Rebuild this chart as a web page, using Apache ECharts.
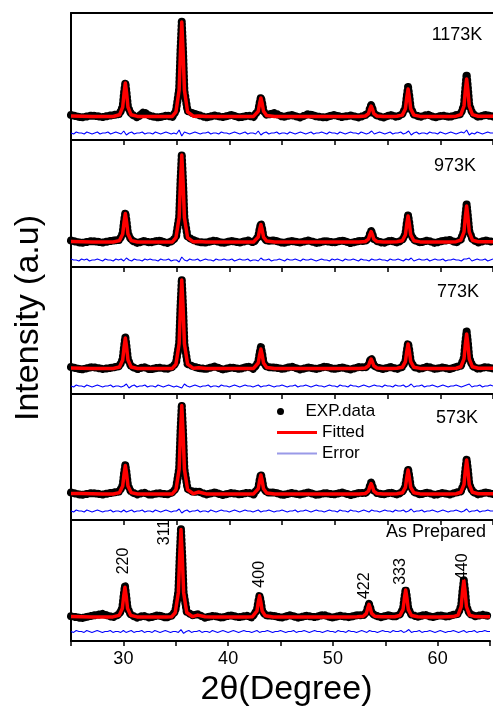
<!DOCTYPE html>
<html>
<head>
<meta charset="utf-8">
<script src="https://cdn.jsdelivr.net/npm/echarts@6/dist/echarts.min.js"></script>
<style>
  html, body { margin: 0; padding: 0; background: #fff; }
  #main { width: 493px; height: 708px; }
</style>
</head>
<body>
<div id="main"></div>
<script>
// panels, top to bottom
var panelNames = ['1173K', '973K', '773K', '573K', 'As Prepared'];

// 2theta sampling shared by the fitted and experimental profiles
var twoTheta = [
  25, 26, 27, 28, 29,
  29.6, 29.9, 30.03, 30.15, 30.27, 30.4, 30.7,
  31.3, 31.9, 32.5, 33.3, 34.1, 34.6,
  34.95, 35.25, 35.38, 35.5, 35.62, 35.75, 36.05,
  36.6, 37.1, 37.8, 38.6, 39.4, 40.2, 41.0, 41.8, 42.3,
  42.45, 42.75, 42.88, 43.0, 43.12, 43.25, 43.55,
  44.3, 45.1, 45.9, 46.7, 47.5, 48.3, 49.1, 49.9, 50.7, 51.5, 52.3,
  52.9, 53.2, 53.33, 53.45, 53.57, 53.7, 54.0,
  54.6, 55.3, 55.9,
  56.4, 56.7, 56.83, 56.95, 57.07, 57.2, 57.5,
  58.1, 58.8, 59.5, 60.2, 60.9, 61.5,
  61.95, 62.25, 62.38, 62.5, 62.62, 62.75, 63.05,
  63.6, 64.3, 65
];

// fitted intensity (a.u.)
var fit1173 = [
  24, 23.8, 23.6, 23.5, 23.5,
  25.2, 32.9, 47, 57, 47, 32.9, 25.2,
  23.6, 23.6, 23.5, 23.5, 23.5, 23.6,
  28.2, 50, 89.7, 118, 89.7, 50, 28.2,
  23.8, 24, 23.6, 23.5, 23.5, 23.5, 23.5, 23.5, 23.6,
  24.4, 28.7, 36.5, 42, 36.5, 28.7, 24.4,
  23.5, 23.5, 23.5, 23.5, 23.5, 23.5, 23.5, 23.5, 23.5, 23.5, 23.6,
  24, 26.4, 30.9, 34, 30.9, 26.4, 24,
  23.6, 23.6, 23.7,
  24.9, 31.2, 42.8, 51, 42.8, 31.2, 24.9,
  23.6, 23.5, 23.5, 23.5, 23.6, 23.8,
  25.4, 34, 49.8, 61, 49.8, 34, 25.4,
  23.8, 23.7, 23.7
];
var fit973 = [
  25.5, 25.3, 25.1, 25, 25,
  26.4, 33, 45, 53.5, 45, 33, 26.4,
  25, 25, 25, 25, 25, 25.1,
  29.4, 49.4, 85.9, 112, 85.9, 49.4, 29.4,
  25.2, 25.6, 25.1, 25, 25, 25, 25, 25, 25.1,
  25.9, 29.9, 37.3, 42.5, 37.3, 29.9, 25.9,
  25, 25, 25, 25, 25, 25, 25, 25, 25, 25, 25.1,
  25.5, 27.9, 32.4, 35.5, 32.4, 27.9, 25.5,
  25.1, 25.1, 25.2,
  26.3, 32.3, 43.2, 51, 43.2, 32.3, 26.3,
  25.1, 25, 25, 25, 25.1, 25.3,
  26.8, 35.1, 50.2, 61, 50.2, 35.1, 26.8,
  25.3, 25.2, 25.2
];
var fit773 = [
  26, 25.8, 25.6, 25.5, 25.5,
  27, 34, 46.9, 56, 46.9, 34, 27,
  25.5, 25.5, 25.5, 25.5, 25.5, 25.6,
  29.9, 50.3, 87.5, 114, 87.5, 50.3, 29.9,
  25.7, 26.2, 25.6, 25.5, 25.5, 25.5, 25.5, 25.5, 25.6,
  26.5, 31, 39.2, 45, 39.2, 31, 26.5,
  25.5, 25.5, 25.5, 25.5, 25.5, 25.5, 25.5, 25.5, 25.5, 25.5, 25.6,
  26, 28.2, 32.2, 35, 32.2, 28.2, 26,
  25.6, 25.6, 25.7,
  26.7, 32.4, 42.7, 50, 42.7, 32.4, 26.7,
  25.6, 25.5, 25.5, 25.5, 25.6, 25.8,
  27.2, 35.2, 49.7, 60, 49.7, 35.2, 27.2,
  25.8, 25.7, 25.7
];
var fit573 = [
  26.6, 26.4, 26.2, 26, 26,
  27.4, 34, 46, 54.5, 46, 34, 27.4,
  26, 26, 26, 26, 26, 26.1,
  30.4, 50.8, 88, 114.5, 88, 50.8, 30.4,
  26.3, 28, 26.1, 26, 26, 26, 26, 26, 26.1,
  27, 31.3, 39.3, 45, 39.3, 31.3, 27,
  26, 26, 26, 26, 26, 26, 26, 26, 26, 26, 26.1,
  26.5, 28.9, 33.4, 36.5, 33.4, 28.9, 26.5,
  26.1, 26.1, 26.2,
  27.2, 32.7, 42.8, 50, 42.8, 32.7, 27.2,
  26.1, 26, 26, 26, 26.1, 26.3,
  27.7, 35.5, 49.8, 60, 49.8, 35.5, 27.7,
  26.3, 26.2, 26.2
];
var fitPrepared = [
  25.6, 25.4, 25.3, 25.3, 25.3,
  26.9, 34, 47.1, 56.5, 47.1, 34, 26.9,
  25.3, 25.3, 25.3, 25.3, 25.3, 25.4,
  29.9, 51, 89.5, 117, 89.5, 51, 29.9,
  25.6, 27.2, 25.4, 25.3, 25.3, 25.3, 25.3, 25.3, 25.4,
  26.4, 31.5, 40.8, 47.5, 40.8, 31.5, 26.4,
  25.3, 25.3, 25.3, 25.3, 25.3, 25.3, 25.3, 25.3, 25.3, 25.3, 25.4,
  26, 29, 34.5, 38.5, 34.5, 29, 26,
  25.4, 25.4, 25.5,
  26.7, 33.2, 45, 53.5, 45, 33.2, 26.7,
  25.4, 25.3, 25.3, 25.3, 25.4, 25.6,
  27.2, 36, 52, 63.5, 52, 36, 27.2,
  25.6, 25.5, 25.5
];

// experimental intensity (a.u.)
var exp1173 = [
  25, 22.5, 24.5, 23, 25,
  26, 33.5, 47.5, 57.5, 46.5, 33, 26,
  22.5, 28, 24, 22.5, 24.5, 23,
  29, 51, 90, 119, 90, 49, 29,
  26.5, 25, 22.5, 24.5, 23, 25, 22.5, 24.5, 23,
  25.5, 29.5, 37, 43, 37, 29, 25,
  27, 23, 25, 22.5, 26, 23.5, 22.5, 25, 23, 24.5, 22.5,
  25, 27, 31.5, 35, 31.5, 26.5, 24.5,
  22.5, 25, 23,
  26, 32, 44, 53, 44, 32, 25.5,
  23, 25.5, 22.5, 24.5, 23, 25,
  26, 35, 52, 66, 52, 35, 26.5,
  23, 25, 23.5
];
var exp973 = [
  26.5, 24, 26, 24.5, 26.5,
  27, 34, 46, 54.5, 45.5, 33.5, 27,
  24, 26, 24.5, 26.5, 24, 26,
  30, 50, 86, 113, 86, 49, 30,
  27, 25, 24.5, 26.5, 24, 26, 24.5, 26.5, 24.5,
  26.5, 30.5, 38, 43.5, 38, 30, 26,
  26.5, 24, 26, 24.5, 26.5, 24, 26, 24.5, 26.5, 24, 26,
  26, 28.5, 33, 36.5, 33, 28, 26,
  24, 26.5, 24.5,
  27, 33, 44, 52, 44, 33, 27,
  24.5, 26.5, 24, 26, 27, 24.5,
  27.5, 36, 51, 63, 51, 36, 27.5,
  24.5, 26.5, 25
];
var exp773 = [
  27, 24.5, 27, 25, 26.5,
  28, 35, 47.5, 57, 47, 34.5, 27.5,
  25, 27, 24.5, 26.5, 25, 27,
  31, 51, 88, 115, 88, 50, 30,
  27.5, 26, 25, 27.5, 24.5, 26.5, 25, 27.5, 25,
  27, 32, 41, 47, 40.5, 31.5, 27,
  26.5, 25, 27.5, 24.5, 26.5, 25, 27.5, 25, 26.5, 24.5, 27,
  26.5, 29, 33, 36, 33, 28.5, 26.5,
  25, 27, 25,
  27, 33, 43.5, 51, 43.5, 33, 27,
  25, 27.5, 25, 26.5, 25, 27,
  28, 36.5, 52, 63, 51.5, 36, 28,
  25, 27, 25.5
];
var exp573 = [
  27.5, 25, 27, 25.5, 27.5,
  28.5, 35, 47, 55.5, 46.5, 34.5, 28,
  25.5, 27.5, 25, 27, 25.5, 27.5,
  31.5, 51.5, 89, 115.5, 89, 51, 31,
  28, 28.5, 25.5, 27.5, 25, 27, 25.5, 27.5, 25.5,
  28, 32, 40, 46, 40, 32, 27.5,
  27.5, 25, 27, 25.5, 27.5, 25, 27, 25.5, 27.5, 25, 27,
  27, 29.5, 34, 37.5, 34, 29.5, 27,
  25.5, 27.5, 25.5,
  28, 33.5, 43.5, 51, 43.5, 33.5, 28,
  25.5, 27.5, 25, 27, 25.5, 27.5,
  28.5, 36.5, 50.5, 61, 50.5, 36, 28.5,
  25.5, 27.5, 26
];
var expPrepared = [
  26, 24, 26.5, 28.5, 25,
  28, 35, 48, 58, 47.5, 34.5, 27.5,
  24.5, 26.5, 24.5, 27, 24.5, 26.5,
  31, 52, 90, 118, 90, 51, 30.5,
  27, 28, 24.5, 26.5, 24.5, 27, 25, 26.5, 24.5,
  27.5, 32.5, 41.5, 48, 41.5, 32, 27,
  26.5, 24.5, 27, 24.5, 26.5, 25, 27.5, 24.5, 26.5, 25, 27,
  27, 30, 35, 39, 35, 29.5, 27,
  25, 27, 25.5,
  28, 34, 46, 54.5, 46, 34, 27.5,
  25.5, 27.5, 25, 27, 25.5, 27.5,
  28.5, 37, 53, 64, 53, 36.5, 28.5,
  26, 27.5, 26
];

// difference curves, sampled every 0.25 deg from 25 deg
var errStart = 25, errStep = 0.25;
var err1173 = [
  7,6,8,7,7,6,8,7,6,7,8,6,7,7,8,6,7,8,7,6,
  9,5,7,8,6,7,7,8,6,7,7,6,8,7,6,7,8,7,6,7,
  6,10,4,8,7,6,7,8,7,6,7,7,8,6,7,7,6,8,7,7,
  6,7,8,7,6,7,8,6,7,7,6,9,5,7,8,6,7,7,8,6,
  7,7,6,8,7,6,7,8,7,6,7,8,6,7,7,8,7,6,8,7,
  7,6,8,7,6,7,8,7,7,6,8,7,6,7,9,6,7,8,7,6,
  7,8,6,7,7,8,6,7,9,5,7,8,6,7,7,6,8,7,7,6,
  8,7,6,7,8,7,6,7,8,7,10,5,7,6,8,7,6,7,8,7,
  7
];
var err973 = [
  8,7,7,6,8,7,8,6,7,7,8,7,6,8,7,7,6,8,7,8,
  6,9,7,6,8,7,7,6,8,7,8,7,7,6,8,7,7,8,6,7,
  7,5,10,7,6,8,7,7,8,6,7,8,7,7,6,8,7,7,8,7,
  7,8,6,7,8,7,7,8,6,7,7,6,9,7,7,8,6,7,7,8,
  7,6,8,7,7,8,7,6,8,7,7,8,7,6,7,8,7,7,6,8,
  7,8,7,6,8,7,7,8,7,6,8,7,7,6,8,7,7,8,7,7,
  6,8,7,7,8,7,6,8,7,9,6,7,8,7,7,8,6,7,8,7,
  7,8,6,7,7,8,7,7,6,8,8,9,6,7,8,7,7,8,6,7,
  8
];
var err773 = [
  8,7,9,8,8,7,9,8,7,8,9,8,7,8,8,9,7,8,8,7,
  8,10,6,8,9,7,8,8,9,7,8,8,7,9,8,7,8,9,8,7,
  8,7,6,10,8,7,8,9,8,7,8,8,9,7,8,8,7,9,8,8,
  7,8,9,8,7,8,9,8,8,7,8,9,7,8,8,9,8,7,8,8,
  9,8,7,8,8,9,7,8,8,9,8,7,8,9,8,8,7,8,9,8,
  8,7,9,8,8,7,9,8,8,7,8,9,8,7,8,9,8,8,7,9,
  8,8,7,9,8,8,9,7,8,10,7,8,8,9,7,8,8,9,8,7,
  8,9,8,7,8,8,9,8,7,8,9,10,7,8,8,9,7,8,8,9,
  8
];
var err573 = [
  9,8,10,9,9,8,10,9,8,9,10,9,8,9,9,10,8,9,9,8,
  10,8,9,10,8,9,9,10,8,9,9,8,10,9,8,9,10,9,8,9,
  9,11,7,9,10,8,9,9,10,8,9,9,8,10,9,8,9,10,9,9,
  8,9,10,9,8,9,10,9,9,8,9,10,8,9,9,10,9,8,9,9,
  10,9,8,9,9,10,8,9,9,10,9,8,9,10,9,9,8,9,10,9,
  9,8,10,9,9,8,10,9,9,8,9,10,9,8,10,9,9,8,9,10,
  9,9,8,10,9,9,10,8,9,11,8,9,9,10,8,9,9,10,9,8,
  9,10,9,8,9,9,10,9,8,9,11,8,9,9,10,8,9,9,10,9,
  9
];
var errPrepared = [
  10,9,11,10,10,9,11,10,9,10,11,10,9,10,10,11,9,10,10,9,
  11,9,10,11,9,10,10,11,9,10,10,9,11,10,9,10,11,10,9,10,
  10,9,12,8,10,11,9,10,10,11,9,10,10,9,11,10,9,10,11,10,
  9,10,11,10,9,10,11,10,10,9,10,11,9,10,10,11,10,9,10,10,
  11,10,9,10,10,11,9,10,10,11,10,9,10,11,10,10,9,10,11,10,
  10,9,11,10,10,9,11,10,10,9,10,11,10,9,11,10,10,9,10,11,
  10,10,9,11,10,10,11,9,10,12,9,10,10,11,9,10,10,11,10,9,
  10,11,10,9,10,10,11,10,9,10,11,9,10,10,11,9,10,10,11,10,
  10
];

var fitted = [fit1173, fit973, fit773, fit573, fitPrepared];
var measured = [exp1173, exp973, exp773, exp573, expPrepared];
var errors = [err1173, err973, err773, err573, errPrepared];

// reflections marked on the bottom pattern
var hklLabels = ['220', '311', '400', '422', '333', '440'];
var hklAnchor = [[30.0, 84], [33.95, 114], [43.05, 70], [53.05, 58], [56.5, 73], [62.35, 78]];

var FONT = '"Liberation Sans", Arial, Helvetica, sans-serif';
var gridTops = [13, 140, 267, 393, 520];
var panelHeight = 127;

function pairs(xs, ys) {
    return xs.map(function (x, i) { return [x, ys[i]]; });
}
function errPairs(ys) {
    return ys.map(function (y, i) { return [errStart + i * errStep, y]; });
}

var chart = echarts.init(document.getElementById('main'), null, { renderer: 'canvas' });

var grids = [], xAxes = [], yAxes = [], series = [];
for (var i = 0; i < 5; i++) {
    var last = i === 4;
    grids.push({ left: 71, width: 423, top: gridTops[i], height: panelHeight });
    xAxes.push({
        gridIndex: i, type: 'value', min: 25, max: 65, interval: 5,
        axisLine: { show: true, lineStyle: { color: '#000', width: 2 } },
        axisTick: { show: true, length: 5, lineStyle: { color: '#000', width: 1.5 } },
        axisLabel: {
            show: last, color: '#000', fontSize: 18, fontFamily: FONT, margin: 9,
            formatter: function (v) { return v % 10 === 0 ? String(v) : ''; }
        },
        splitLine: { show: false },
        name: last ? '2θ(Degree)' : '',
        nameLocation: 'middle', nameGap: 32,
        nameTextStyle: { color: '#000', fontSize: 34, fontFamily: FONT, padding: [0, 0, 0, 12] }
    });
    yAxes.push({
        gridIndex: i, type: 'value', min: 0, max: panelHeight,
        axisLine: { show: true, lineStyle: { color: '#000', width: 2 } },
        axisTick: { show: false }, axisLabel: { show: false }, splitLine: { show: false }
    });
    series.push({
        name: 'Error', type: 'line', xAxisIndex: i, yAxisIndex: i,
        data: errPairs(errors[i]), showSymbol: false, z: 2,
        itemStyle: { color: '#0000ff' },
        lineStyle: { color: '#0000ff', width: 1.1 }
    });
    series.push({
        name: 'EXP.data', type: 'line', xAxisIndex: i, yAxisIndex: i,
        data: pairs(twoTheta, measured[i]), showSymbol: false, z: 3,
        itemStyle: { color: '#000' },
        lineStyle: { color: '#000', width: 8, type: [0.5, 3.5], cap: 'round', join: 'round' }
    });
    series.push({
        name: 'Fitted', type: 'line', xAxisIndex: i, yAxisIndex: i,
        data: pairs(twoTheta, fitted[i]), showSymbol: false, z: 4,
        itemStyle: { color: '#ff0000' },
        lineStyle: { color: '#ff0000', width: 3.5, join: 'round' }
    });
}
// top frame line of the first panel
xAxes.push({
    gridIndex: 0, type: 'value', min: 25, max: 65, position: 'top',
    axisLine: { show: true, lineStyle: { color: '#000', width: 2 } },
    axisTick: { show: false }, axisLabel: { show: false }, splitLine: { show: false }
});

var legendBase = {
    orient: 'vertical', left: 277, padding: 0, itemWidth: 40, selectedMode: false,
    textStyle: { color: '#000', fontSize: 17, fontFamily: FONT }
};

chart.setOption({
    animation: false,
    backgroundColor: '#fff',
    grid: grids,
    xAxis: xAxes,
    yAxis: yAxes,
    legend: [
        Object.assign({}, legendBase, {
            top: 403, itemHeight: 7,
            data: [{ name: 'EXP.data', icon: 'circle', itemStyle: { color: '#000', borderWidth: 0 } }]
        }),
        Object.assign({}, legendBase, {
            top: 424, itemHeight: 3,
            data: [{ name: 'Fitted', icon: 'rect', itemStyle: { color: '#ff0000', borderWidth: 0 } }]
        }),
        Object.assign({}, legendBase, {
            top: 445, itemHeight: 2,
            data: [{ name: 'Error', icon: 'rect', itemStyle: { color: '#9a9ae8', borderWidth: 0 } }]
        })
    ],
    series: series
});

// text annotations
var graphics = [];
var panelLabelAt = [[457, 35], [455, 166], [458, 292], [457, 418], [436, 532]];
panelNames.forEach(function (name, k) {
    graphics.push({
        type: 'text', x: panelLabelAt[k][0], y: panelLabelAt[k][1], z: 10,
        style: { text: name, fill: '#000', font: '18px ' + FONT, textAlign: 'center', textVerticalAlign: 'middle' }
    });
});
hklLabels.forEach(function (lab, k) {
    var p = chart.convertToPixel({ xAxisIndex: 4, yAxisIndex: 4 }, hklAnchor[k]);
    graphics.push({
        type: 'text', x: p[0], y: p[1], rotation: Math.PI / 2, z: 10,
        style: { text: lab, fill: '#000', font: '16px ' + FONT, textAlign: 'center', textVerticalAlign: 'middle' }
    });
});
graphics.push({
    type: 'text', x: 29, y: 318, rotation: Math.PI / 2, z: 10,
    style: { text: 'Intensity (a.u)', fill: '#000', font: '34px ' + FONT, textAlign: 'center', textVerticalAlign: 'middle' }
});
chart.setOption({ graphic: graphics });
</script>
</body>
</html>
